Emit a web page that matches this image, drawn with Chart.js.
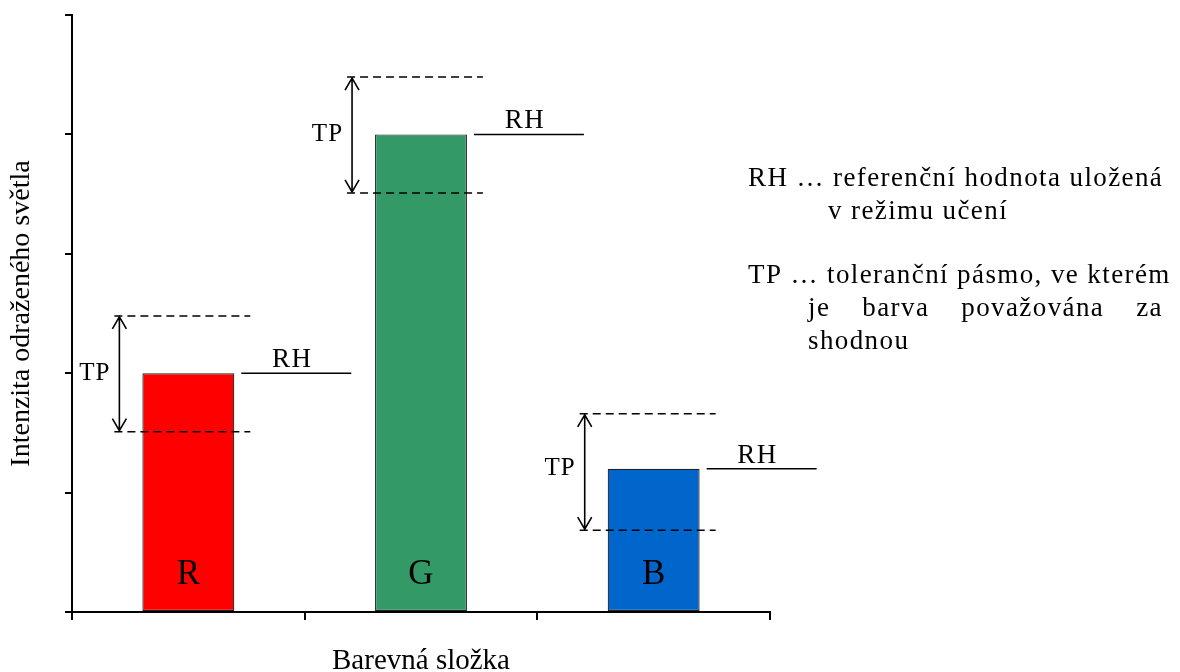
<!DOCTYPE html>
<html>
<head>
<meta charset="utf-8">
<script src="https://cdn.jsdelivr.net/npm/chart.js@4/dist/chart.umd.min.js"></script>
<style>
  html, body { margin: 0; padding: 0; background: #fff; }
  #wrap { width: 1180px; height: 672px; position: relative; }
</style>
</head>
<body>
<div id="wrap"><canvas id="c" width="1180" height="672"></canvas></div>
<script>
// ---- data ----
const categories = ['R', 'G', 'B'];
const barColors = ['#ff0000', '#339966', '#0066cc'];
const values  = [40.0, 80.0, 24.0];   // RH – reference value
const tolLow  = [30.2, 70.2, 13.7];   // TP lower bound
const tolHigh = [49.6, 89.6, 33.2];   // TP upper bound
const yTicks  = [0, 20, 40, 60, 80, 100];
const yTitle = 'Intenzita odraženého světla';
const xTitle = 'Barevná složka';
const noteLines = [
  { text: 'RH … referenční hodnota uložená', indent: 0, row: 0 },
  { text: 'v režimu učení', indent: 1, row: 1 },
  { text: 'TP … toleranční pásmo, ve kterém', indent: 0, row: 2 },
  { text: 'je barva považována za', indent: 2, row: 3, justify: true },
  { text: 'shodnou', indent: 2, row: 4 }
];

const SERIF = '"Liberation Serif", "Times New Roman", serif';

const annotate = {
  id: 'annotate',
  afterDatasetsDraw(chart) {
    const ctx = chart.ctx;
    const y = chart.scales.y;
    const meta = chart.getDatasetMeta(0);
    ctx.save();
    meta.data.forEach((bar, i) => {
      const w = bar.width;
      const left = bar.x - w / 2, right = bar.x + w / 2;
      const yH = y.getPixelForValue(tolHigh[i]);
      const yL = y.getPixelForValue(tolLow[i]);
      const yV = y.getPixelForValue(values[i]);
      ctx.strokeStyle = '#000';
      ctx.fillStyle = '#000';
      // dashed tolerance lines
      ctx.lineWidth = 1.5;
      ctx.setLineDash([8, 5]);
      [yH, yL].forEach(yy => {
        ctx.beginPath();
        ctx.moveTo(left - 28, yy);
        ctx.lineTo(right + 16, yy);
        ctx.stroke();
      });
      ctx.setLineDash([]);
      // double arrow
      const ax = left - 23;
      ctx.lineWidth = 1.6;
      ctx.beginPath();
      ctx.moveTo(ax, yH + 1); ctx.lineTo(ax, yL - 1);
      ctx.moveTo(ax - 7, yH + 13); ctx.lineTo(ax, yH + 1); ctx.lineTo(ax + 7, yH + 13);
      ctx.moveTo(ax - 7, yL - 13); ctx.lineTo(ax, yL - 1); ctx.lineTo(ax + 7, yL - 13);
      ctx.stroke();
      // RH line
      ctx.lineWidth = 1.5;
      ctx.beginPath();
      ctx.moveTo(right + 7, yV);
      ctx.lineTo(right + 117, yV);
      ctx.stroke();
      // labels
      ctx.letterSpacing = '1px';
      ctx.font = '25px ' + SERIF;
      ctx.textBaseline = 'middle';
      ctx.textAlign = 'right';
      ctx.fillText('TP', ax - 9, yV);
      ctx.font = '27px ' + SERIF;
      ctx.letterSpacing = '1.5px';
      ctx.textAlign = 'center';
      ctx.textBaseline = 'alphabetic';
      ctx.fillText('RH', right + 58, yV - 6);
      // bar letter
      ctx.letterSpacing = '0px';
      ctx.font = '35px ' + SERIF;
      ctx.fillText(categories[i], bar.x, y.getPixelForValue(0) - 28);
    });
    // explanatory notes
    ctx.font = '27px ' + SERIF;
    ctx.letterSpacing = '1.4px';
    ctx.textAlign = 'left';
    ctx.textBaseline = 'alphabetic';
    const x0 = chart.chartArea.right - 22;
    const indents = [0, 80, 60];
    const baselines = [186, 219, 283, 316, 349];
    noteLines.forEach(l => {
      const x = x0 + indents[l.indent];
      const by = baselines[l.row];
      if (l.justify) {
        const words = l.text.split(' ');
        const xEnd = 1163;
        const widths = words.map(wd => ctx.measureText(wd).width);
        const total = widths.reduce((a, b) => a + b, 0);
        const gap = (xEnd - x - total) / (words.length - 1);
        let cx = x;
        words.forEach((wd, k) => { ctx.fillText(wd, cx, by); cx += widths[k] + gap; });
      } else {
        ctx.fillText(l.text, x, by);
      }
    });
    ctx.restore();
  }
};

new Chart(document.getElementById('c'), {
  type: 'bar',
  data: {
    labels: categories,
    datasets: [{
      data: values,
      backgroundColor: barColors,
      borderColor: '#222',
      borderWidth: 1.2,
      borderSkipped: false,
      barPercentage: 0.395,
      categoryPercentage: 1.0
    }]
  },
  options: {
    responsive: false,
    animation: false,
    events: [],
    layout: { padding: { left: 0, right: 410, top: 15, bottom: 0 } },
    plugins: { legend: { display: false }, tooltip: { enabled: false }, title: { display: false } },
    scales: {
      x: {
        offset: true,
        grid: { display: true, offset: true, drawOnChartArea: false, drawTicks: true, tickLength: 8, color: '#000', lineWidth: 2 },
        border: { display: true, color: '#000', width: 2 },
        ticks: { display: false },
        title: { display: true, text: xTitle, color: '#000', font: { family: SERIF, size: 29, lineHeight: 0.7 }, padding: 0 },
        afterFit(s) { s.height = 60; }
      },
      y: {
        min: 0, max: 100,
        afterBuildTicks(s) { s.ticks = yTicks.map(v => ({ value: v })); },
        grid: { display: true, drawOnChartArea: false, drawTicks: true, tickLength: 7, color: '#000', lineWidth: 2 },
        border: { display: true, color: '#000', width: 2 },
        ticks: { display: false },
        title: { display: true, text: yTitle, color: '#000', font: { family: SERIF, size: 28, lineHeight: 1.2 }, padding: { top: 5, bottom: 0 } },
        afterFit(s) { s.width = 72; }
      }
    }
  },
  plugins: [annotate]
});
</script>
</body>
</html>
